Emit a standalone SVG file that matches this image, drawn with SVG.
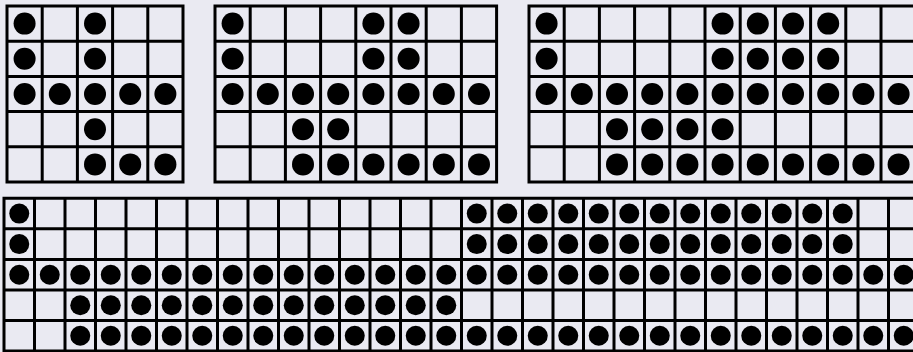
<svg xmlns="http://www.w3.org/2000/svg" width="913" height="352" viewBox="0 0 913 352">
<style>
.bg{fill:#eaeaf2}
.grid{fill:none;stroke:#000;stroke-width:3;stroke-linecap:square}
.dots circle{fill:#000}
</style>
<rect class="bg" x="0" y="0" width="913" height="352"/>
<g id="grid1">
<path class="grid" d="M7 6V182M42.2 6V182M77.4 6V182M112.6 6V182M147.8 6V182M183 6V182M7 6H183M7 41.2H183M7 76.4H183M7 111.6H183M7 146.8H183M7 182H183"/>
<g class="dots">
<circle cx="24.6" cy="23.6" r="11"/><circle cx="95" cy="23.6" r="11"/>
<circle cx="24.6" cy="58.8" r="11"/><circle cx="95" cy="58.8" r="11"/>
<circle cx="24.6" cy="94" r="11"/><circle cx="59.8" cy="94" r="11"/><circle cx="95" cy="94" r="11"/><circle cx="130.2" cy="94" r="11"/><circle cx="165.4" cy="94" r="11"/>
<circle cx="95" cy="129.2" r="11"/>
<circle cx="95" cy="164.4" r="11"/><circle cx="130.2" cy="164.4" r="11"/><circle cx="165.4" cy="164.4" r="11"/>
</g>
</g>
<g id="grid2">
<path class="grid" d="M215 6V182M250.2 6V182M285.4 6V182M320.6 6V182M355.8 6V182M391 6V182M426.2 6V182M461.4 6V182M496.6 6V182M215 6H496.6M215 41.2H496.6M215 76.4H496.6M215 111.6H496.6M215 146.8H496.6M215 182H496.6"/>
<g class="dots">
<circle cx="232.6" cy="23.6" r="11"/><circle cx="373.4" cy="23.6" r="11"/><circle cx="408.6" cy="23.6" r="11"/>
<circle cx="232.6" cy="58.8" r="11"/><circle cx="373.4" cy="58.8" r="11"/><circle cx="408.6" cy="58.8" r="11"/>
<circle cx="232.6" cy="94" r="11"/><circle cx="267.8" cy="94" r="11"/><circle cx="303" cy="94" r="11"/><circle cx="338.2" cy="94" r="11"/><circle cx="373.4" cy="94" r="11"/><circle cx="408.6" cy="94" r="11"/><circle cx="443.8" cy="94" r="11"/><circle cx="479" cy="94" r="11"/>
<circle cx="303" cy="129.2" r="11"/><circle cx="338.2" cy="129.2" r="11"/>
<circle cx="303" cy="164.4" r="11"/><circle cx="338.2" cy="164.4" r="11"/><circle cx="373.4" cy="164.4" r="11"/><circle cx="408.6" cy="164.4" r="11"/><circle cx="443.8" cy="164.4" r="11"/><circle cx="479" cy="164.4" r="11"/>
</g>
</g>
<g id="grid3">
<path class="grid" d="M529 6V182M564.2 6V182M599.4 6V182M634.6 6V182M669.8 6V182M705 6V182M740.2 6V182M775.4 6V182M810.6 6V182M845.8 6V182M881 6V182M916.2 6V182M529 6H916.2M529 41.2H916.2M529 76.4H916.2M529 111.6H916.2M529 146.8H916.2M529 182H916.2"/>
<g class="dots">
<circle cx="546.6" cy="23.6" r="11"/><circle cx="722.6" cy="23.6" r="11"/><circle cx="757.8" cy="23.6" r="11"/><circle cx="793" cy="23.6" r="11"/><circle cx="828.2" cy="23.6" r="11"/>
<circle cx="546.6" cy="58.8" r="11"/><circle cx="722.6" cy="58.8" r="11"/><circle cx="757.8" cy="58.8" r="11"/><circle cx="793" cy="58.8" r="11"/><circle cx="828.2" cy="58.8" r="11"/>
<circle cx="546.6" cy="94" r="11"/><circle cx="581.8" cy="94" r="11"/><circle cx="617" cy="94" r="11"/><circle cx="652.2" cy="94" r="11"/><circle cx="687.4" cy="94" r="11"/><circle cx="722.6" cy="94" r="11"/><circle cx="757.8" cy="94" r="11"/><circle cx="793" cy="94" r="11"/><circle cx="828.2" cy="94" r="11"/><circle cx="863.4" cy="94" r="11"/><circle cx="898.6" cy="94" r="11"/>
<circle cx="617" cy="129.2" r="11"/><circle cx="652.2" cy="129.2" r="11"/><circle cx="687.4" cy="129.2" r="11"/><circle cx="722.6" cy="129.2" r="11"/>
<circle cx="617" cy="164.4" r="11"/><circle cx="652.2" cy="164.4" r="11"/><circle cx="687.4" cy="164.4" r="11"/><circle cx="722.6" cy="164.4" r="11"/><circle cx="757.8" cy="164.4" r="11"/><circle cx="793" cy="164.4" r="11"/><circle cx="828.2" cy="164.4" r="11"/><circle cx="863.4" cy="164.4" r="11"/><circle cx="898.6" cy="164.4" r="11"/>
</g>
</g>
<g id="grid4">
<path class="grid" d="M4 198.3V351M34.5 198.3V351M65 198.3V351M95.5 198.3V351M126 198.3V351M156.5 198.3V351M187 198.3V351M217.5 198.3V351M248 198.3V351M278.5 198.3V351M309 198.3V351M339.5 198.3V351M370 198.3V351M400.5 198.3V351M431 198.3V351M461.5 198.3V351M492 198.3V351M522.5 198.3V351M553 198.3V351M583.5 198.3V351M614 198.3V351M644.5 198.3V351M675 198.3V351M705.5 198.3V351M736 198.3V351M766.5 198.3V351M797 198.3V351M827.5 198.3V351M858 198.3V351M888.5 198.3V351M919 198.3V351M4 198.3H919M4 228.85H919M4 259.4H919M4 289.95H919M4 320.5H919M4 351H919"/>
<g class="dots">
<circle cx="19.25" cy="213.6" r="10"/>
<circle cx="476.75" cy="213.6" r="10"/><circle cx="507.25" cy="213.6" r="10"/><circle cx="537.75" cy="213.6" r="10"/><circle cx="568.25" cy="213.6" r="10"/><circle cx="598.75" cy="213.6" r="10"/><circle cx="629.25" cy="213.6" r="10"/><circle cx="659.75" cy="213.6" r="10"/><circle cx="690.25" cy="213.6" r="10"/><circle cx="720.75" cy="213.6" r="10"/><circle cx="751.25" cy="213.6" r="10"/><circle cx="781.75" cy="213.6" r="10"/><circle cx="812.25" cy="213.6" r="10"/><circle cx="842.75" cy="213.6" r="10"/>
<circle cx="19.25" cy="244.1" r="10"/>
<circle cx="476.75" cy="244.1" r="10"/><circle cx="507.25" cy="244.1" r="10"/><circle cx="537.75" cy="244.1" r="10"/><circle cx="568.25" cy="244.1" r="10"/><circle cx="598.75" cy="244.1" r="10"/><circle cx="629.25" cy="244.1" r="10"/><circle cx="659.75" cy="244.1" r="10"/><circle cx="690.25" cy="244.1" r="10"/><circle cx="720.75" cy="244.1" r="10"/><circle cx="751.25" cy="244.1" r="10"/><circle cx="781.75" cy="244.1" r="10"/><circle cx="812.25" cy="244.1" r="10"/><circle cx="842.75" cy="244.1" r="10"/>
<circle cx="19.25" cy="274.7" r="10"/><circle cx="49.75" cy="274.7" r="10"/><circle cx="80.25" cy="274.7" r="10"/><circle cx="110.75" cy="274.7" r="10"/><circle cx="141.25" cy="274.7" r="10"/><circle cx="171.75" cy="274.7" r="10"/><circle cx="202.25" cy="274.7" r="10"/><circle cx="232.75" cy="274.7" r="10"/><circle cx="263.25" cy="274.7" r="10"/><circle cx="293.75" cy="274.7" r="10"/><circle cx="324.25" cy="274.7" r="10"/><circle cx="354.75" cy="274.7" r="10"/><circle cx="385.25" cy="274.7" r="10"/><circle cx="415.75" cy="274.7" r="10"/><circle cx="446.25" cy="274.7" r="10"/><circle cx="476.75" cy="274.7" r="10"/><circle cx="507.25" cy="274.7" r="10"/><circle cx="537.75" cy="274.7" r="10"/><circle cx="568.25" cy="274.7" r="10"/><circle cx="598.75" cy="274.7" r="10"/><circle cx="629.25" cy="274.7" r="10"/><circle cx="659.75" cy="274.7" r="10"/><circle cx="690.25" cy="274.7" r="10"/><circle cx="720.75" cy="274.7" r="10"/><circle cx="751.25" cy="274.7" r="10"/><circle cx="781.75" cy="274.7" r="10"/><circle cx="812.25" cy="274.7" r="10"/><circle cx="842.75" cy="274.7" r="10"/><circle cx="873.25" cy="274.7" r="10"/><circle cx="903.75" cy="274.7" r="10"/>
<circle cx="80.25" cy="305.2" r="10"/><circle cx="110.75" cy="305.2" r="10"/><circle cx="141.25" cy="305.2" r="10"/><circle cx="171.75" cy="305.2" r="10"/><circle cx="202.25" cy="305.2" r="10"/><circle cx="232.75" cy="305.2" r="10"/><circle cx="263.25" cy="305.2" r="10"/><circle cx="293.75" cy="305.2" r="10"/><circle cx="324.25" cy="305.2" r="10"/><circle cx="354.75" cy="305.2" r="10"/><circle cx="385.25" cy="305.2" r="10"/><circle cx="415.75" cy="305.2" r="10"/><circle cx="446.25" cy="305.2" r="10"/>
<circle cx="80.25" cy="335.8" r="10"/><circle cx="110.75" cy="335.8" r="10"/><circle cx="141.25" cy="335.8" r="10"/><circle cx="171.75" cy="335.8" r="10"/><circle cx="202.25" cy="335.8" r="10"/><circle cx="232.75" cy="335.8" r="10"/><circle cx="263.25" cy="335.8" r="10"/><circle cx="293.75" cy="335.8" r="10"/><circle cx="324.25" cy="335.8" r="10"/><circle cx="354.75" cy="335.8" r="10"/><circle cx="385.25" cy="335.8" r="10"/><circle cx="415.75" cy="335.8" r="10"/><circle cx="446.25" cy="335.8" r="10"/><circle cx="476.75" cy="335.8" r="10"/><circle cx="507.25" cy="335.8" r="10"/><circle cx="537.75" cy="335.8" r="10"/><circle cx="568.25" cy="335.8" r="10"/><circle cx="598.75" cy="335.8" r="10"/><circle cx="629.25" cy="335.8" r="10"/><circle cx="659.75" cy="335.8" r="10"/><circle cx="690.25" cy="335.8" r="10"/><circle cx="720.75" cy="335.8" r="10"/><circle cx="751.25" cy="335.8" r="10"/><circle cx="781.75" cy="335.8" r="10"/><circle cx="812.25" cy="335.8" r="10"/><circle cx="842.75" cy="335.8" r="10"/><circle cx="873.25" cy="335.8" r="10"/><circle cx="903.75" cy="335.8" r="10"/>
</g>
</g>
</svg>
